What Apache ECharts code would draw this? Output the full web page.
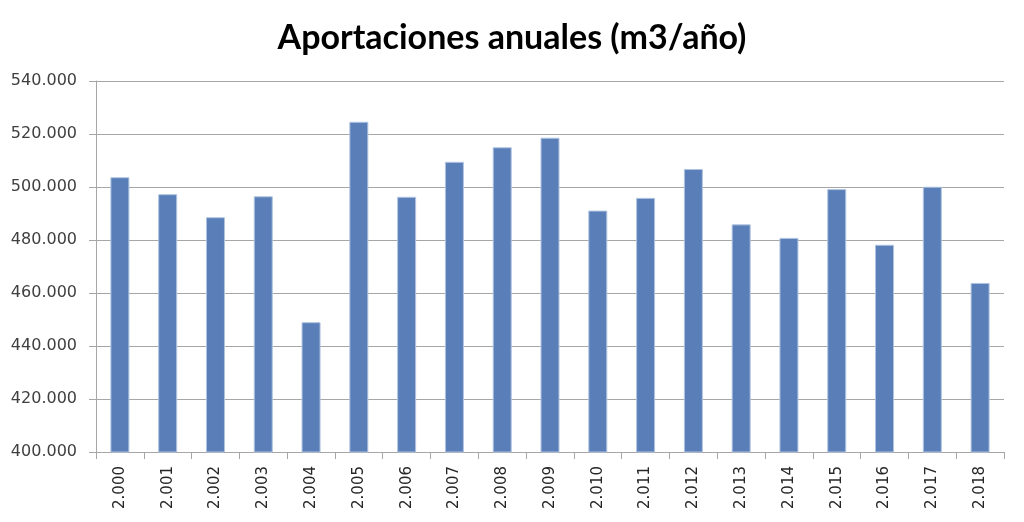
<!DOCTYPE html>
<html>
<head>
<meta charset="utf-8">
<script src="https://cdn.jsdelivr.net/npm/echarts@6/dist/echarts.min.js"></script>
<style>html,body{margin:0;padding:0;background:#fff}#c{width:1024px;height:522px}</style>
</head>
<body>
<div id="c"></div>
<script>
const categories = ["2.000","2.001","2.002","2.003","2.004","2.005","2.006","2.007","2.008","2.009","2.010","2.011","2.012","2.013","2.014","2.015","2.016","2.017","2.018"];
const values = [503700,497300,488600,496500,449000,524600,496300,509500,515000,518600,491100,495900,506800,485900,480800,499200,478200,500100,463800];
const yTicks = {min:400000, max:540000, interval:20000};
const titleText = "Aportaciones anuales (m3/año)";

function fmt(v){ return String(v).replace(/\B(?=(\d{3})+(?!\d))/g, "."); }

const chart = echarts.init(document.getElementById('c'), null, {renderer:'canvas'});
chart.setOption({
  animation:false,
  backgroundColor:'#ffffff',
  title:{text:titleText, left:'center', top:16,
    textStyle:{fontFamily:'Lato', fontWeight:'bold', fontSize:34, color:'#000'}},
  grid:{left:96, right:20, top:81, bottom:70},
  xAxis:{type:'category', data:categories,
    axisLine:{lineStyle:{color:'#a6a6a6'}},
    axisTick:{show:true, alignWithLabel:false, length:7, lineStyle:{color:'#a6a6a6'}},
    axisLabel:{rotate:90, fontFamily:'DejaVu Sans', fontSize:15, color:'#262626', margin:14}},
  yAxis:{type:'value', min:yTicks.min, max:yTicks.max, interval:yTicks.interval,
    axisLine:{show:true, lineStyle:{color:'#a6a6a6'}},
    axisTick:{show:true, length:7, lineStyle:{color:'#a6a6a6'}},
    splitLine:{lineStyle:{color:'#a6a6a6'}},
    axisLabel:{formatter:fmt, fontFamily:'DejaVu Sans', fontSize:16, color:'#404040', margin:19}},
  series:[{type:'bar', data:values, barWidth:19,
    itemStyle:{color:'#5a7fb8', borderColor:'#b0c4e0', borderWidth:1}}]
});
</script>
</body>
</html>
